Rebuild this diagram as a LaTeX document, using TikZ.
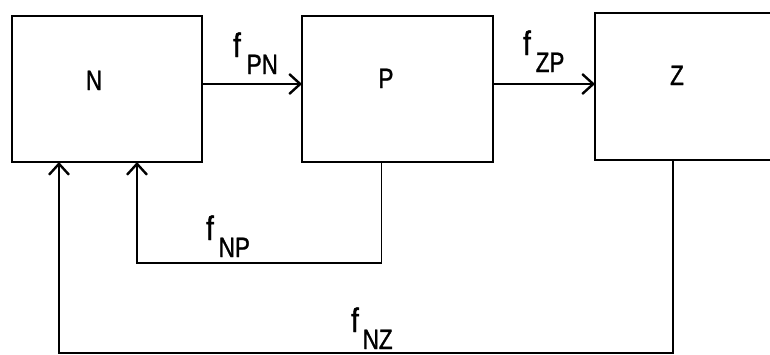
\documentclass[tikz,border=0pt]{standalone}
\usepackage{fontspec}
\setmainfont{Liberation Sans}[FakeStretch=0.8,FakeBold=1.2]
\usetikzlibrary{arrows.meta}
\newcommand{\flowlab}[2]{{\fontsize{34}{36}\selectfont f}\hspace{#2}\raisebox{-17pt}{#1}}
\begin{document}
\begin{tikzpicture}[x=1pt,y=-1pt,
  boxst/.style={draw,line width=2.8pt,inner sep=0pt,outer sep=0pt},
  conn/.style={line width=1.9pt},
  arr/.style={conn,-{Straight Barb[length=11pt,width=20pt,line width=2.4pt]}},
  lbltxt/.style={font=\fontsize{28}{32}\selectfont,inner sep=0pt,anchor=base west},
  boxlab/.style={font=\fontsize{28}{32}\selectfont,inner sep=0pt,anchor=base}]
\clip (0,0) rectangle (770,354);
\useasboundingbox (0,0) rectangle (770,354);
% boxes
\node[boxst,minimum width=190pt,minimum height=146pt] (N) at (107,89) {};
\node[boxst,minimum width=191pt,minimum height=146pt] (P) at (397.5,89) {};
\node[boxst,minimum width=190pt,minimum height=147pt] (Z) at (690,86.5) {};
% box names
\node[boxlab] (Nl) at (94,90) {N};
\node[boxlab] (Pl) at (386,88) {P};
\node[boxlab] (Zl) at (677,85) {Z};
% forward arrows
\draw[arr] ([yshift=5pt]N.east) -- ([yshift=5pt]P.west);
\draw[arr] ([yshift=5pt]P.east) -- ([yshift=5pt]P.east -| Z.west);
% feedback
\draw[arr] ([xshift=-16pt]P.south) -- ++(0,101) -| ([xshift=30pt]N.south);
\draw[arr] ([xshift=-17pt]Z.south) -- ++(0,193) -| ([xshift=-48pt]N.south);
% labels
\node[lbltxt] (fPN) at (233,57) {\flowlab{PN}{6pt}};
\node[lbltxt] (fZP) at (523,55) {\flowlab{ZP}{5pt}};
\node[lbltxt] (fNP) at (206,240) {\flowlab{NP}{5pt}};
\node[lbltxt] (fNZ) at (351,332) {\flowlab{NZ}{4pt}};
\end{tikzpicture}
\end{document}
